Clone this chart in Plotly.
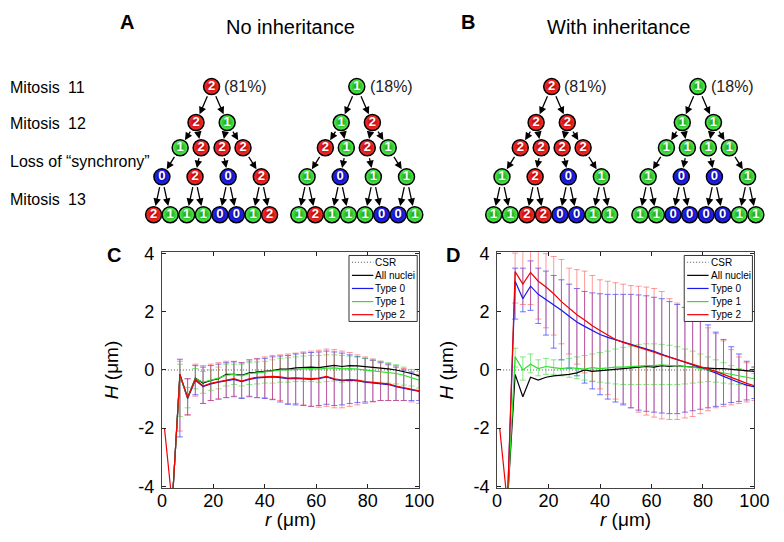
import plotly.graph_objects as go

# ------------------------------------------------------------------ data
r = [1, 4, 7, 10, 13, 16, 19, 22, 25, 28, 31, 34, 37, 40, 43, 46, 49, 52,
     55, 58, 61, 64, 67, 70, 73, 76, 79, 82, 85, 88, 91, 94, 97, 100]
csr_r = [0, 100]
csr_H = [0, 0]

# Panel C (no inheritance)
C_all = [None, -4.6, -0.15, -0.95, -0.28, -0.45, -0.36, -0.30, -0.15, -0.15, -0.18, -0.10, -0.08, -0.05, -0.02, 0.03, 0.03, 0.07,
         0.08, 0.10, 0.08, 0.13, 0.16, 0.12, 0.15, 0.14, 0.12, 0.10, 0.08, 0.04, 0.00, -0.05, -0.12, -0.20]
C_t0 = [None, -4.6, -0.18, -0.98, -0.35, -0.57, -0.48, -0.42, -0.37, -0.32, -0.40, -0.32, -0.27, -0.26, -0.24, -0.26, -0.30, -0.29,
        -0.30, -0.32, -0.30, -0.24, -0.32, -0.37, -0.35, -0.37, -0.42, -0.44, -0.46, -0.50, -0.57, -0.62, -0.67, -0.74]
C_t0_hi = [None, None, 0.37, -0.30, 0.15, 0.10, 0.15, 0.20, 0.25, 0.28, 0.25, 0.35, 0.38, 0.40, 0.45, 0.48, 0.50, 0.55,
           0.58, 0.60, 0.62, 0.65, 0.62, 0.58, 0.52, 0.46, 0.40, 0.33, 0.25, 0.18, 0.10, 0.00, -0.10, -0.20]
C_t0_lo = [None, None, -2.30, -1.55, -0.85, -1.15, -1.05, -1.00, -0.95, -0.92, -0.98, -0.92, -0.95, -0.98, -1.02, -1.10, -1.18, -1.20,
           -1.22, -1.25, -1.22, -1.18, -1.22, -1.20, -1.15, -1.12, -1.10, -1.08, -1.05, -1.05, -1.05, -1.05, -1.05, -1.05]
C_t1 = [None, -4.6, -0.20, -0.95, -0.30, -0.42, -0.35, -0.28, -0.18, -0.15, -0.20, -0.12, -0.10, -0.06, -0.04, 0.00, 0.00, 0.03,
        0.04, 0.05, 0.03, 0.06, 0.07, 0.04, 0.05, 0.03, 0.00, -0.02, -0.05, -0.08, -0.12, -0.18, -0.26, -0.35]
C_t1_hi = [None, None, 0.20, -0.60, 0.05, -0.05, 0.00, 0.10, 0.20, 0.20, 0.20, 0.25, 0.28, 0.30, 0.35, 0.40, 0.42, 0.45,
           0.48, 0.50, 0.50, 0.52, 0.52, 0.50, 0.48, 0.45, 0.40, 0.35, 0.30, 0.25, 0.18, 0.10, 0.02, -0.05]
C_t1_lo = [None, None, -1.60, -1.30, -0.65, -0.80, -0.70, -0.65, -0.55, -0.50, -0.55, -0.50, -0.48, -0.45, -0.45, -0.42, -0.42, -0.40,
           -0.40, -0.40, -0.42, -0.40, -0.38, -0.42, -0.40, -0.40, -0.42, -0.42, -0.45, -0.45, -0.48, -0.52, -0.55, -0.62]
C_t2 = [-2.0, -4.6, -0.15, -0.96, -0.32, -0.55, -0.46, -0.40, -0.35, -0.30, -0.38, -0.30, -0.25, -0.24, -0.22, -0.24, -0.28, -0.27,
        -0.28, -0.30, -0.28, -0.22, -0.30, -0.35, -0.33, -0.35, -0.40, -0.42, -0.44, -0.48, -0.55, -0.60, -0.65, -0.72]
C_t2_hi = [None, None, 0.30, -0.30, 0.20, 0.15, 0.20, 0.25, 0.30, 0.30, 0.25, 0.30, 0.40, 0.45, 0.50, 0.52, 0.55, 0.58,
           0.62, 0.65, 0.68, 0.72, 0.70, 0.65, 0.60, 0.52, 0.45, 0.38, 0.30, 0.22, 0.15, 0.05, -0.05, -0.15]
C_t2_lo = [None, None, -2.10, -1.53, -0.90, -1.15, -1.05, -1.00, -0.95, -0.90, -0.95, -0.90, -0.95, -0.95, -1.00, -1.05, -1.15, -1.15,
           -1.20, -1.25, -1.28, -1.25, -1.30, -1.30, -1.25, -1.20, -1.15, -1.10, -1.05, -1.05, -1.05, -1.05, -1.10, -1.15]

# Panel D (with inheritance)
D_all = [None, -4.6, -0.15, -0.92, -0.25, -0.35, -0.25, -0.20, -0.18, -0.15, -0.10, 0.00, -0.05, -0.02, 0.00, 0.02, 0.05, 0.07,
         0.10, 0.12, 0.10, 0.15, 0.12, 0.15, 0.12, 0.10, 0.08, 0.08, 0.05, 0.05, 0.02, 0.00, -0.02, -0.05]
D_t0 = [None, -4.6, 3.05, 2.45, 2.88, 2.60, 2.42, 2.25, 2.05, 1.85, 1.65, 1.50, 1.35, 1.22, 1.12, 1.04, 0.97, 0.90,
        0.82, 0.74, 0.64, 0.54, 0.45, 0.36, 0.26, 0.16, 0.08, 0.00, -0.10, -0.22, -0.33, -0.43, -0.52, -0.58]
D_t0_hi = [None, None, 3.50, 3.50, 3.75, 3.50, 3.40, 3.25, 3.10, 2.95, 2.80, 2.70, 2.65, 2.62, 2.60, 2.60, 2.60, 2.60,
           2.58, 2.55, 2.50, 2.45, 2.35, 2.25, 2.15, 2.00, 1.80, 1.55, 1.30, 1.05, 0.80, 0.55, 0.30, 0.10]
D_t0_lo = [None, None, 1.75, 2.00, 2.05, 1.60, 1.20, 0.75, 0.35, 0.05, -0.20, -0.45, -0.65, -0.85, -1.00, -1.10, -1.20, -1.30,
           -1.38, -1.42, -1.45, -1.48, -1.50, -1.50, -1.45, -1.40, -1.35, -1.30, -1.25, -1.18, -1.12, -1.08, -1.03, -0.98]
D_t1 = [None, -4.6, 0.45, 0.00, 0.20, 0.05, 0.12, 0.08, 0.05, 0.08, 0.05, 0.03, 0.08, 0.05, 0.07, 0.10, 0.10, 0.12,
        0.12, 0.15, 0.15, 0.18, 0.15, 0.15, 0.12, 0.10, 0.05, 0.00, -0.05, -0.10, -0.15, -0.20, -0.25, -0.30]
D_t1_hi = [None, None, 0.75, 0.45, 0.55, 0.35, 0.40, 0.35, 0.35, 0.40, 0.45, 0.50, 0.55, 0.60, 0.65, 0.72, 0.78, 0.82,
           0.88, 0.90, 0.90, 0.88, 0.85, 0.80, 0.72, 0.65, 0.55, 0.45, 0.35, 0.25, 0.15, 0.05, -0.05, -0.12]
D_t1_lo = [None, None, 0.10, -0.35, -0.10, -0.20, -0.15, -0.15, -0.20, -0.25, -0.30, -0.35, -0.38, -0.42, -0.45, -0.48, -0.50, -0.50,
           -0.50, -0.50, -0.50, -0.50, -0.50, -0.50, -0.48, -0.45, -0.42, -0.40, -0.42, -0.45, -0.48, -0.50, -0.52, -0.55]
D_t2 = [-2.0, -4.6, 3.38, 2.95, 3.35, 3.05, 2.85, 2.62, 2.35, 2.12, 1.90, 1.72, 1.52, 1.36, 1.20, 1.05, 0.95, 0.87,
        0.78, 0.70, 0.61, 0.52, 0.44, 0.35, 0.27, 0.19, 0.12, 0.05, -0.05, -0.15, -0.26, -0.37, -0.46, -0.54]
D_t2_hi = [None, None, 4.02, 4.50, 4.60, 4.30, 4.00, 3.90, 3.80, 3.50, 3.45, 3.40, 3.25, 3.10, 3.05, 3.00, 2.95, 2.90,
           2.88, 2.85, 2.80, 2.70, 2.45, 2.30, 2.15, 1.95, 1.70, 1.45, 1.25, 1.00, 0.70, 0.45, 0.25, 0.10]
D_t2_lo = [None, None, 2.30, 2.25, 2.25, 1.75, 1.45, 1.20, 0.90, 0.55, 0.20, -0.10, -0.40, -0.65, -0.85, -1.00, -1.15, -1.30,
           -1.45, -1.55, -1.62, -1.68, -1.70, -1.70, -1.65, -1.60, -1.50, -1.40, -1.30, -1.25, -1.20, -1.15, -1.10, -1.05]

x_ticks = [0, 20, 40, 60, 80, 100]
x_ticktext = ["0", "20", "40", "60", "80", "100"]
y_ticks = [-4, -2, 0, 2, 4]
y_ticktext = ["-4", "-2", "0", "2", "4"]
x_title = "<i>r</i> (\u03bcm)"
y_title = "<i>H</i> (\u03bcm)"
legend_names = ["CSR", "All nuclei", "Type 0", "Type 1", "Type 2"]

# Lineage trees (node types per generation)
tree_A1 = [[2], [2, 1], [1, 2, 2, 2], [0, 2, 0, 2], [2, 1, 1, 1, 0, 0, 1, 2]]
tree_A2 = [[1], [1, 2], [2, 1, 2, 1], [1, 0, 1, 1], [1, 2, 1, 1, 1, 0, 0, 1]]
tree_B1 = [[2], [2, 2], [2, 2, 2, 2], [1, 2, 0, 1], [1, 1, 2, 2, 0, 0, 1, 1]]
tree_B2 = [[1], [1, 1], [1, 1, 1, 1], [1, 0, 0, 1], [1, 1, 0, 0, 0, 0, 1, 1]]
tree_pct = ["(81%)", "(18%)", "(81%)", "(18%)"]
row_labels = ["Mitosis", "Mitosis", "Loss of \u201csynchrony\u201d", "Mitosis"]
row_numbers = ["11", "12", "", "13"]
panel_titles = ["No inheritance", "With inheritance"]
panel_letters = ["A", "B", "C", "D"]

# ------------------------------------------------------------------ style / layout
W, H = 784, 542
TOP_H = 240          # height (px) of the tree area at the top
FONT = "Liberation Sans, Arial, sans-serif"
BLUE = "rgb(25,25,235)"
GREEN = "rgb(40,225,40)"
RED = "rgb(240,0,0)"
ERR = {0: "rgba(70,70,255,0.75)", 1: "rgba(60,215,60,0.6)", 2: "rgba(255,70,70,0.55)"}
NODE_FILL = {0: "#2a2aff", 1: "#55f055", 2: "#ff3030"}
NODE_EDGE = {0: "#00008c", 1: "#119a11", 2: "#b00000"}

C_X, D_X = (161, 425), (505, 769)
AX_TOP, AX_BOT = 251, 495


def px(x):
    return x / W


def py(y):
    return 1 - y / H


dom_y = [py(AX_BOT), py(AX_TOP)]

fig = go.Figure()


def add_panel(xa, ya, all_m, series):
    fig.add_trace(go.Scatter(x=csr_r, y=csr_H, mode="lines", xaxis=xa, yaxis=ya,
                             line=dict(color="#555", width=1, dash="1px,2px"), hoverinfo="skip"))
    for k, (m, hi, lo) in enumerate(series):
        xs, ys, ep, em = [], [], [], []
        for ri, mi, h, l in zip(r, m, hi, lo):
            if mi is None or h is None:
                continue
            xs.append(ri)
            ys.append(mi)
            ep.append(h - mi)
            em.append(mi - l)
        fig.add_trace(go.Scatter(x=xs, y=ys, mode="markers", xaxis=xa, yaxis=ya,
                                 marker=dict(size=1, color="rgba(0,0,0,0)"),
                                 error_y=dict(type="data", symmetric=False, array=ep, arrayminus=em,
                                              color=ERR[k], thickness=1, width=3),
                                 hoverinfo="skip"))
    for m, col in [(all_m, "black"), (series[0][0], BLUE), (series[1][0], GREEN), (series[2][0], RED)]:
        fig.add_trace(go.Scatter(x=r, y=m, mode="lines", xaxis=xa, yaxis=ya,
                                 line=dict(color=col, width=1.2)))


add_panel("x", "y", C_all, [(C_t0, C_t0_hi, C_t0_lo), (C_t1, C_t1_hi, C_t1_lo), (C_t2, C_t2_hi, C_t2_lo)])
add_panel("x2", "y2", D_all, [(D_t0, D_t0_hi, D_t0_lo), (D_t1, D_t1_hi, D_t1_lo), (D_t2, D_t2_hi, D_t2_lo)])

# ------------------------------------------------------------------ lineage trees (pixel axes x3/y3, top area)
LEVEL_Y = [81, 118, 144, 174, 213]
LEVEL_DX = [[0], [-16, 16], [-32.25, -10.75, 10.75, 32.25], [-51, -17, 17, 51],
            [-59.5 + 17 * i for i in range(8)]]
roots = [212, 361, 561, 711]
trees = [tree_A1, tree_A2, tree_B1, tree_B2]

annotations = []
nodes = {0: ([], [], []), 1: ([], [], []), 2: ([], [], [])}


def arrow(x0, y0, x1, y1):
    annotations.append(dict(x=x1, y=y1, ax=x0, ay=y0, xref="x3", yref="y3", axref="x3", ayref="y3",
                            text="", showarrow=True, arrowhead=2, arrowsize=1.15, arrowwidth=1.3,
                            arrowcolor="black", standoff=9, startstandoff=9))


for R, tree, pct in zip(roots, trees, tree_pct):
    pos = []
    for lev, vals in enumerate(tree):
        p = [(R + dx, LEVEL_Y[lev]) for dx in LEVEL_DX[lev]]
        pos.append(p)
        for (x, y), v in zip(p, vals):
            nodes[v][0].append(x)
            nodes[v][1].append(y)
            nodes[v][2].append("<b>%d</b>" % v)
    for lev in range(4):
        parents, kids = pos[lev], pos[lev + 1]
        for j, (cx, cy) in enumerate(kids):
            if len(kids) == len(parents):
                px_, py_ = parents[j]
            else:
                px_, py_ = parents[j // 2]
            arrow(px_, py_, cx, cy)
    annotations.append(dict(x=R + 11, y=LEVEL_Y[0], xref="x3", yref="y3", text=pct, showarrow=False,
                            xanchor="left", yanchor="middle", font=dict(size=16, color="#222")))

for v in (0, 1, 2):
    xs, ys, ts = nodes[v]
    fig.add_trace(go.Scatter(x=xs, y=ys, text=ts, mode="markers+text", xaxis="x3", yaxis="y3",
                             textposition="middle center",
                             textfont=dict(color="white", size=13, family=FONT),
                             marker=dict(size=16, color=NODE_FILL[v],
                                         gradient=dict(type="radial", color=NODE_EDGE[v]),
                                         line=dict(color="black", width=1.5)),
                             hoverinfo="skip", cliponaxis=False))

# row labels
for lab, num, y in zip(row_labels, row_numbers, [82, 119, 158, 197]):
    annotations.append(dict(x=3, y=y, xref="x3", yref="y3", text=lab, showarrow=False,
                            xanchor="left", yanchor="middle", font=dict(size=16)))
    if num:
        annotations.append(dict(x=63, y=y, xref="x3", yref="y3", text=num, showarrow=False,
                                xanchor="left", yanchor="middle", font=dict(size=16)))

for t, x in zip(panel_titles, [293, 630]):
    annotations.append(dict(x=x, y=20, xref="x3", yref="y3", text=t, showarrow=False,
                            xanchor="center", yanchor="middle", font=dict(size=20)))
for t, (x, y) in zip(panel_letters, [(125, 14), (475, 14), (112, 255), (460, 255)]):
    annotations.append(dict(x=px(x), y=py(y), xref="paper", yref="paper", text="<b>%s</b>" % t,
                            showarrow=False, xanchor="center", yanchor="middle", font=dict(size=20)))

# axis titles (placed as annotations for exact positioning)
for (a, b) in (C_X, D_X):
    annotations.append(dict(x=px((a + b) / 2), y=py(527), xref="paper", yref="paper", text=x_title,
                            showarrow=False, xanchor="center", yanchor="middle", font=dict(size=19)))
    annotations.append(dict(x=px(a - 51), y=py((AX_TOP + AX_BOT) / 2), xref="paper", yref="paper",
                            text=y_title, textangle=-90, showarrow=False, xanchor="center",
                            yanchor="middle", font=dict(size=19)))

# ------------------------------------------------------------------ legends (paper coordinates)
shapes = []
leg_styles = [("#555", "1px,2px"), ("black", "solid"), (BLUE, "solid"), (GREEN, "solid"), (RED, "solid")]
for bx in (353, 697):
    shapes.append(dict(type="rect", xref="paper", yref="paper", x0=px(bx), x1=px(bx + 70),
                       y0=py(323), y1=py(255), line=dict(color="#333", width=1),
                       fillcolor="white", layer="above"))
    for i, (name, (col, dash)) in enumerate(zip(legend_names, leg_styles)):
        y = 262 + 13.5 * i
        shapes.append(dict(type="line", xref="paper", yref="paper", x0=px(bx + 3), x1=px(bx + 25),
                           y0=py(y), y1=py(y), line=dict(color=col, width=1.2, dash=dash), layer="above"))
        annotations.append(dict(x=px(bx + 25), y=py(y), xref="paper", yref="paper", text=name,
                                showarrow=False, xanchor="left", yanchor="middle", font=dict(size=10)))

# ------------------------------------------------------------------ axes
def xax(a, b, anchor):
    return dict(domain=[px(a), px(b)], anchor=anchor, range=[0, 100], tickvals=x_ticks, ticktext=x_ticktext,
                ticks="inside", ticklen=4, tickcolor="#222", mirror="ticks", showline=True,
                linecolor="#444", linewidth=1, showgrid=False, zeroline=False,
                tickfont=dict(size=18, color="black"), ticklabelstandoff=-4)


def yax(anchor):
    return dict(domain=dom_y, anchor=anchor, range=[-4.07, 4.07], tickvals=y_ticks, ticktext=y_ticktext,
                ticks="inside", ticklen=4, tickcolor="#222", mirror="ticks", showline=True,
                linecolor="#444", linewidth=1, showgrid=False, zeroline=False,
                tickfont=dict(size=18, color="black"), ticklabelstandoff=3)


fig.update_layout(
    width=W, height=H, margin=dict(l=0, r=0, t=0, b=0),
    paper_bgcolor="white", plot_bgcolor="rgba(0,0,0,0)", showlegend=False,
    font=dict(family=FONT, color="black"),
    xaxis=xax(*C_X, "y"), yaxis=yax("x"),
    xaxis2=xax(*D_X, "y2"), yaxis2=yax("x2"),
    xaxis3=dict(domain=[0, 1], anchor="y3", range=[0, W], visible=False, fixedrange=True),
    yaxis3=dict(domain=[py(TOP_H), 1], anchor="x3", range=[TOP_H, 0], visible=False, fixedrange=True),
    annotations=annotations, shapes=shapes,
)

fig.write_html("out.html", config={"displayModeBar": False},
               post_script="document.body.style.margin='0';document.body.style.padding='0';"
                           "document.body.style.overflow='hidden';")
